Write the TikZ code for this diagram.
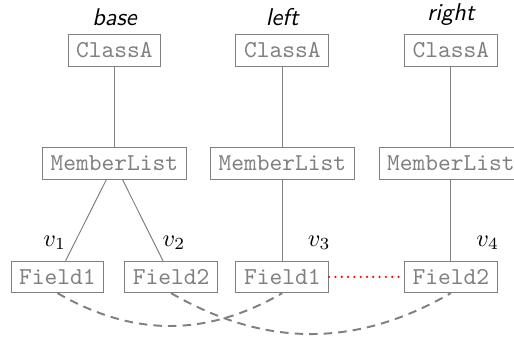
\documentclass[tikz,border=0pt]{standalone}
\usepackage{amsmath}
\usetikzlibrary{positioning}

\begin{document}
\begin{tikzpicture}[
    box/.style={draw=gray, text=gray, font=\ttfamily},
    title/.style={font=\sffamily\itshape},
    tree/.style={gray},
    version/.style={text=black},
    match/.style={gray, thick, dash pattern=on 3.5pt off 2.5pt},
    conflict/.style={red, line width=1pt, line cap=round, dash pattern=on 0pt off 2.6pt}]
    % Fix the picture size
    \useasboundingbox (0,0) rectangle (7.439,4.920);

    % Classes and member lists of the three versions
    \foreach \name/\x in {base/1.657, left/4.085, right/6.525} {
        \node[box, label={[title]above:\name}] (class-\name) at (\x,4.190) {ClassA};
        \node[box] (list-\name) at (\x,2.554) {MemberList};
        \draw[tree] (class-\name) -- (list-\name);
    }

    % Fields
    \node[box] (field1-base) at (0.832,0.912) {Field1};
    \node[box] (field2-base) at (2.475,0.912) {Field2};
    \node[box] (field1-left) at (4.085,0.912) {Field1};
    \node[box] (field2-right) at (6.525,0.912) {Field2};

    \draw[tree] (list-base) -- node[version, pos=0.78, left] {$v_1$} (field1-base);
    \draw[tree] (list-base) -- node[version, pos=0.78, right] {$v_2$} (field2-base);
    \draw[tree] (list-left) -- node[version, pos=0.78, right=7pt] {$v_3$} (field1-left);
    \draw[tree] (list-right) -- node[version, pos=0.78, right=7pt] {$v_4$} (field2-right);

    % Matchings between versions
    \draw[match] (field1-base.south) to[bend right=30] (field1-left.south);
    \draw[match] (field2-base.south) to[bend right=30] (field2-right.south);
    \draw[conflict] (field1-left) -- (field2-right);
\end{tikzpicture}
\end{document}
